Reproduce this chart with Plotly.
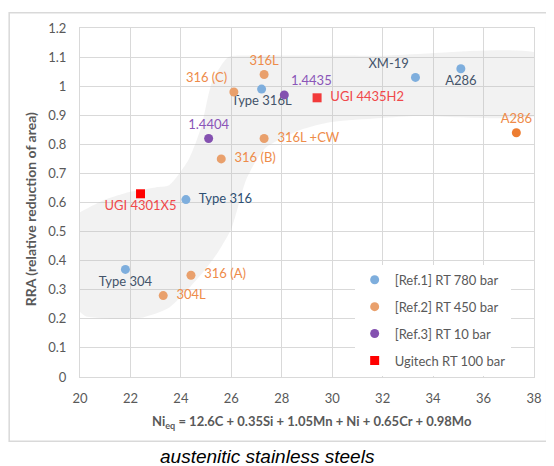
import plotly.graph_objects as go

# ---- data ----
ref1_x = [21.8, 24.2, 27.2, 33.3, 35.1]
ref1_y = [0.37, 0.61, 0.99, 1.03, 1.06]
ref1_lbl = ["Type 304", "Type 316", "Type 316L", "XM-19", "A286"]

ref2_x = [23.3, 24.4, 25.6, 26.1, 27.3, 27.3, 37.3]
ref2_y = [0.28, 0.35, 0.75, 0.98, 1.04, 0.82, 0.84]
ref2_lbl = ["304L", "316 (A)", "316 (B)", "316 (C)", "316L", "316L +CW", "A286"]

ref3_x = [25.1, 28.1]
ref3_y = [0.82, 0.97]
ref3_lbl = ["1.4404", "1.4435"]

ugi_x = [22.4, 29.4]
ugi_y = [0.63, 0.96]
ugi_lbl = ["UGI 4301X5", "UGI 4435H2"]

legend_names = ["[Ref.1] RT 780 bar", "[Ref.2] RT 450 bar", "[Ref.3] RT 10 bar", "Ugitech RT 100 bar"]

# decorative grey trend band outline
band_x = [19.7, 20.04, 21.0, 21.96, 23.0, 23.53, 24.31, 24.82, 25.22, 25.88, 27.06, 32.0, 38.4,
          38.4, 33.2, 29.8, 28.63, 27.37, 26.94, 26.55, 26.0, 25.4, 24.82, 23.53, 22.5, 21.57, 20.2, 19.7]
band_y = [0.55, 0.568, 0.61, 0.636, 0.652, 0.659, 0.748, 0.863, 1.01, 1.10, 1.105, 1.105, 1.105,
          0.908, 0.897, 0.874, 0.846, 0.789, 0.738, 0.670, 0.51, 0.42, 0.354, 0.238, 0.205, 0.20, 0.21, 0.25]

FONT = "Lato"
GREY = "#595959"
PAD = "\u00a0\u00a0"


def labels(lbls, positions):
    return [PAD + t if p == "middle right" else t for t, p in zip(lbls, positions)]


pos1 = ["bottom center", "middle right", "bottom center", "top left", "bottom center"]
pos2 = ["middle right", "middle right", "middle right", "top left", "top center", "middle right", "top center"]
pos3 = ["top center", "top right"]
pos4 = ["bottom center", "middle right"]

fig = go.Figure()

fig.add_trace(go.Scatter(
    x=band_x, y=band_y, mode="lines", fill="toself", line=dict(width=0, shape="spline", smoothing=0.6),
    fillcolor="rgba(190,190,190,0.2)", hoverinfo="skip", showlegend=False))

fig.add_trace(go.Scatter(
    x=ref1_x, y=ref1_y, mode="markers+text", name=legend_names[0], legendgroup="a",
    text=labels(ref1_lbl, pos1), textposition=pos1,
    textfont=dict(color=["#44546A", "#2E4F73", "#44546A", "#44546A", "#44546A"], size=13, family=FONT),
    marker=dict(color="#7EAEDD", size=9)))

fig.add_trace(go.Scatter(
    x=ref2_x, y=ref2_y, mode="markers+text", name=legend_names[1], legendgroup="b",
    text=labels(ref2_lbl, pos2), textposition=pos2,
    textfont=dict(color="#EE8B4A", size=13, family=FONT),
    marker=dict(color=["#E9A06C"] * 6 + ["#ED7D31"], size=9)))

fig.add_trace(go.Scatter(
    x=ref3_x, y=ref3_y, mode="markers+text", name=legend_names[2], legendgroup="c",
    text=labels(ref3_lbl, pos3), textposition=pos3,
    textfont=dict(color="#8A55B8", size=13, family=FONT),
    marker=dict(color="#8451B0", size=9)))

fig.add_trace(go.Scatter(
    x=ugi_x, y=ugi_y, mode="markers+text", name=legend_names[3], legendgroup="d",
    text=labels(ugi_lbl, pos4), textposition=pos4,
    textfont=dict(color="#F0484A", size=13, family=FONT),
    marker=dict(color=["#FF0000", "#F23A3A"], size=9, symbol="square")))

# page body has an 8px default margin: size/margins compensate for it
fig.update_layout(
    width=546, height=458,
    margin=dict(l=72, r=15, t=16, b=89),
    paper_bgcolor="white", plot_bgcolor="white",
    font=dict(family=FONT, color=GREY, size=13),
    legend=dict(x=0.605, y=0.3215, xanchor="left", yanchor="top", bgcolor="white",
                font=dict(size=13, color=GREY, family=FONT), tracegroupgap=7,
                itemwidth=30),
    xaxis=dict(range=[20, 38], dtick=2, showgrid=True, gridcolor="#D9D9D9", zeroline=False,
               showline=True, linecolor="#D9D9D9", mirror=True, ticks="", ticklabelstandoff=9,
               tickfont=dict(size=13, color=GREY), fixedrange=True),
    yaxis=dict(range=[0, 1.2], dtick=0.1, showgrid=True, gridcolor="#D9D9D9", zeroline=False,
               showline=True, linecolor="#D9D9D9", mirror=True, ticks="", tickformat="~g",
               ticklabelstandoff=10,
               tickfont=dict(size=13, color=GREY), fixedrange=True),
    showlegend=True,
)

fig.add_shape(type="rect", xref="paper", yref="paper", x0=-0.156, x1=1.028, y0=-0.184, y1=1.044,
              line=dict(color="#D9D9D9", width=1.5), layer="below")

fig.add_annotation(xref="paper", yref="paper", x=-0.109, y=0.479, textangle=-90, showarrow=False,
                   xanchor="center", yanchor="middle",
                   text="<b>RRA (relative reduction of area)</b>", font=dict(size=14, color=GREY, family=FONT))
fig.add_annotation(xref="paper", yref="paper", x=0.51, y=-0.13, showarrow=False,
                   xanchor="center", yanchor="middle",
                   text="<b>Ni<sub>eq</sub> = 12.6C + 0.35Si + 1.05Mn + Ni + 0.65Cr + 0.98Mo</b>",
                   font=dict(size=13, color=GREY, family=FONT))
fig.add_annotation(xref="paper", yref="paper", x=0.414, y=-0.229, showarrow=False,
                   xanchor="center", yanchor="middle",
                   text="<i>austenitic stainless steels</i>",
                   font=dict(size=19, color="black", family="Liberation Sans"))

fig.write_html("out.html")
